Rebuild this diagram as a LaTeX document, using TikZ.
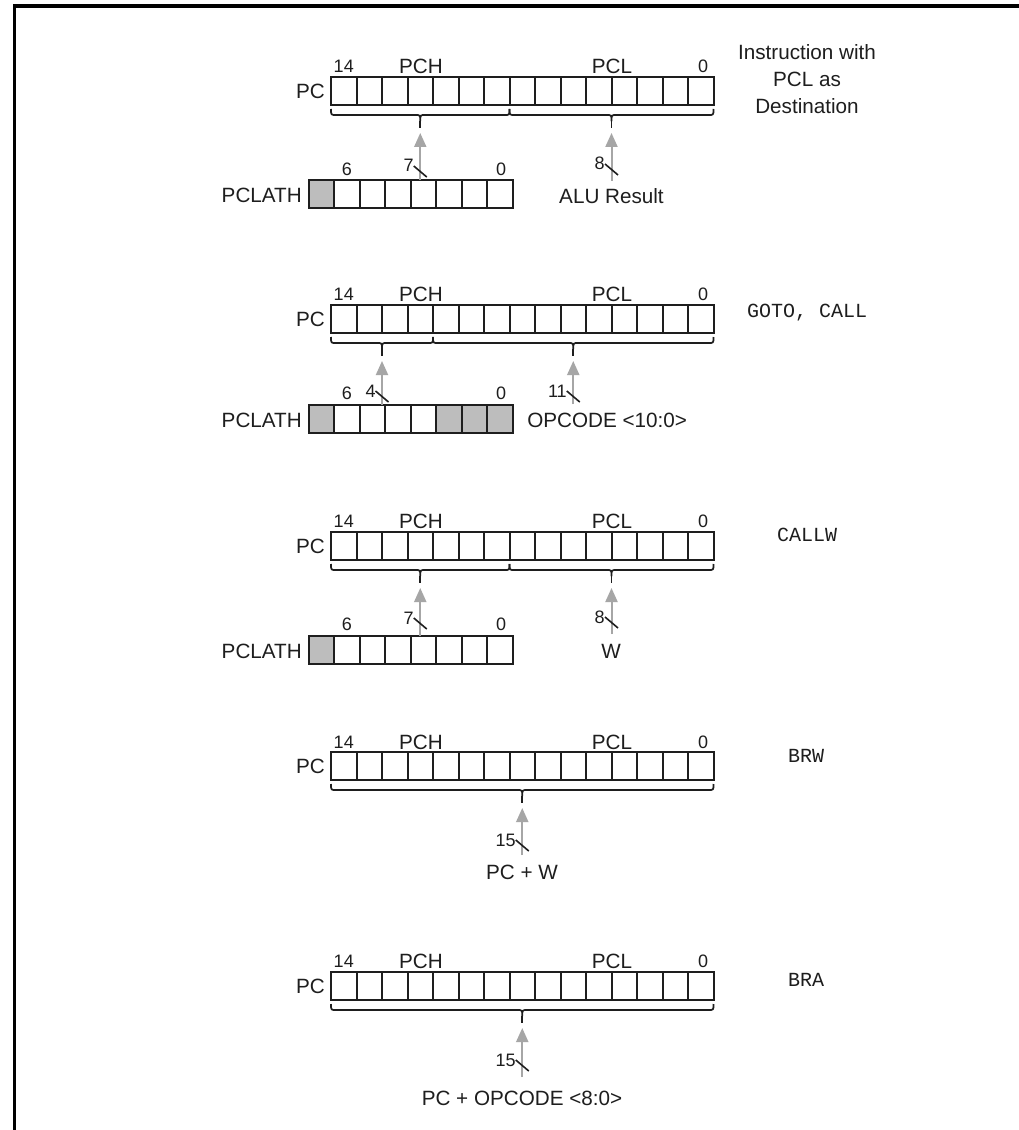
\documentclass[tikz,border=0pt]{standalone}
\usepackage{fontspec}
\setmainfont{Liberation Sans}
\newfontfamily\monofont{Liberation Mono}
\usetikzlibrary{arrows.meta}
\definecolor{ink}{HTML}{1E1E1E}
\definecolor{feedgray}{HTML}{A6A6A6}
\definecolor{cellgray}{HTML}{BDBDBD}
\tikzset{
  cellline/.style={draw=ink, line width=1.5pt},
  lbl/.style={font=\fontsize{15.5}{20.25}\selectfont, inner sep=0pt, text=ink},
  num/.style={font=\fontsize{13.5}{15}\selectfont, inner sep=0pt, text=ink},
  mono/.style={font=\monofont\fontsize{15}{18}\selectfont, inner sep=0pt, text=ink},
  bracestyle/.style={draw=ink, line width=1.3pt, line join=round},
  feed/.style={draw=feedgray, line width=1.5pt, -{Triangle[width=9pt,length=10.5pt]}},
  buswidth/.style={draw=ink, line width=1.2pt},
  frameline/.style={draw=black, line width=2.3pt},
}
\newcommand{\regbox}[3]{\foreach \i in {1,...,#3}{\draw[cellline] ({#1+(\i-1)*25.5},#2) rectangle ({#1+\i*25.5},{#2+28});}}
\newcommand{\graycell}[3]{\fill[cellgray] ({#1+(#3-1)*25.5},#2) rectangle ({#1+#3*25.5},{#2+28});}
\newcommand{\bracedn}[4]{%
  \pgfmathsetmacro\bm{(#1+#2)/2}%
  \draw[bracestyle] (#1,{#3+4}) .. controls (#1,{#3+10}) .. ({#1+5},{#3+10}) -- ({\bm-5},{#3+10}) .. controls (\bm,{#3+10}) .. (\bm,{#3+16}) .. controls (\bm,{#3+10}) .. ({\bm+5},{#3+10}) -- ({#2-5},{#3+10}) .. controls (#2,{#3+10}) .. (#2,{#3+4});
  \draw[bracestyle] (\bm,{#3+16}) -- (\bm,{#3+23});
  \coordinate (#4) at (\bm,{#3+28});
}
\begin{document}
\begin{tikzpicture}[x=0.75pt,y=-0.75pt]
\useasboundingbox (0,0) rectangle (1018,1130);
\fill[white] (0,0) rectangle (1018,1130);
\draw[frameline] (14.5,1140) -- (14.5,6) -- (1030,6);

% ---------- Diagram 1 ----------
\regbox{331}{77}{15}
\node[lbl,anchor=east] (pc1) at (325,91) {PC};
\node[num] (n1a) at (343.75,66) {14};
\node[lbl] (pch1) at (421,66) {PCH};
\node[lbl] (pcl1) at (612,66) {PCL};
\node[num] (n1b) at (703,66) {0};
\node[lbl,align=center] (ins1) at (807,79) {Instruction with\\PCL as\\Destination};
\graycell{308.5}{180}{1}
\regbox{308.5}{180}{8}
\node[lbl,anchor=east] (pl1) at (302,195) {PCLATH};
\node[num] (n1c) at (346.75,169) {6};
\node[num] (n1d) at (501,169) {0};
\bracedn{331}{509.5}{105}{t1a}
\bracedn{509.5}{713.5}{105}{t1b}
\coordinate (s1a) at (420.25,180);
\coordinate (s1b) at (611.5,181);
\draw[feed] (s1a) -- (t1a);
\draw[feed] (s1b) -- (t1b);
\node[num,anchor=east] (w1a) at (414,165) {7};
\draw[buswidth] (413.75,166) -- (426.75,177);
\node[num,anchor=east] (w1b) at (605,163) {8};
\draw[buswidth] (605,164) -- (618,175);
\node[lbl] (alu) at (611.5,196) {ALU Result};

% ---------- Diagram 2 ----------
\regbox{331}{305}{15}
\node[lbl,anchor=east] (pc2) at (325,319) {PC};
\node[num] (n2a) at (343.75,294) {14};
\node[lbl] (pch2) at (421,294) {PCH};
\node[lbl] (pcl2) at (612,294) {PCL};
\node[num] (n2b) at (703,294) {0};
\node[mono] (ins2) at (807,313) {GOTO, CALL};
\graycell{308.5}{405}{1}
\graycell{308.5}{405}{6}
\graycell{308.5}{405}{7}
\graycell{308.5}{405}{8}
\regbox{308.5}{405}{8}
\node[lbl,anchor=east] (pl2) at (302,420) {PCLATH};
\node[num] (n2c) at (346.75,393) {6};
\node[num] (n2d) at (501,393) {0};
\bracedn{331}{433}{333}{t2a}
\bracedn{433}{713.5}{333}{t2b}
\coordinate (s2a) at (382,405);
\coordinate (s2b) at (573.25,404);
\draw[feed] (s2a) -- (t2a);
\draw[feed] (s2b) -- (t2b);
\node[num,anchor=east] (w2a) at (376,391) {4};
\draw[buswidth] (375.5,391) -- (388.5,402);
\node[num,anchor=east] (w2b) at (567,391) {11};
\draw[buswidth] (566.75,391) -- (579.75,402);
\node[lbl,anchor=west] (opc) at (527,420) {OPCODE <10:0>};

% ---------- Diagram 3 ----------
\regbox{331}{532}{15}
\node[lbl,anchor=east] (pc3) at (325,546) {PC};
\node[num] (n3a) at (343.75,521) {14};
\node[lbl] (pch3) at (421,521) {PCH};
\node[lbl] (pcl3) at (612,521) {PCL};
\node[num] (n3b) at (703,521) {0};
\node[mono] (ins3) at (807,535) {CALLW};
\graycell{308.5}{636}{1}
\regbox{308.5}{636}{8}
\node[lbl,anchor=east] (pl3) at (302,651) {PCLATH};
\node[num] (n3c) at (346.75,624) {6};
\node[num] (n3d) at (501,624) {0};
\bracedn{331}{509.5}{560}{t3a}
\bracedn{509.5}{713.5}{560}{t3b}
\coordinate (s3a) at (420.25,636);
\coordinate (s3b) at (611.5,634);
\draw[feed] (s3a) -- (t3a);
\draw[feed] (s3b) -- (t3b);
\node[num,anchor=east] (w3a) at (414,618) {7};
\draw[buswidth] (413.75,618) -- (426.75,629);
\node[num,anchor=east] (w3b) at (605,617) {8};
\draw[buswidth] (605,617) -- (618,628);
\node[lbl] (wreg) at (611,651) {W};

% ---------- Diagram 4 ----------
\regbox{331}{752}{15}
\node[lbl,anchor=east] (pc4) at (325,766) {PC};
\node[num] (n4a) at (343.75,742) {14};
\node[lbl] (pch4) at (421,742) {PCH};
\node[lbl] (pcl4) at (612,742) {PCL};
\node[num] (n4b) at (703,742) {0};
\node[mono] (ins4) at (806,756) {BRW};
\bracedn{331}{713.5}{780}{t4a}
\coordinate (s4a) at (522.25,855);
\draw[feed] (s4a) -- (t4a);
\node[num,anchor=east] (w4a) at (516,840) {15};
\draw[buswidth] (515.75,840) -- (528.75,851);
\node[lbl] (pcw) at (522,872) {PC + W};

% ---------- Diagram 5 ----------
\regbox{331}{972}{15}
\node[lbl,anchor=east] (pc5) at (325,986) {PC};
\node[num] (n5a) at (343.75,961) {14};
\node[lbl] (pch5) at (421,961) {PCH};
\node[lbl] (pcl5) at (612,961) {PCL};
\node[num] (n5b) at (703,961) {0};
\node[mono] (ins5) at (806,980) {BRA};
\bracedn{331}{713.5}{1000}{t5a}
\coordinate (s5a) at (522.25,1077);
\draw[feed] (s5a) -- (t5a);
\node[num,anchor=east] (w5a) at (516,1060) {15};
\draw[buswidth] (515.75,1060) -- (528.75,1071);
\node[lbl] (pco) at (522,1098) {PC + OPCODE <8:0>};
\end{tikzpicture}
\end{document}
